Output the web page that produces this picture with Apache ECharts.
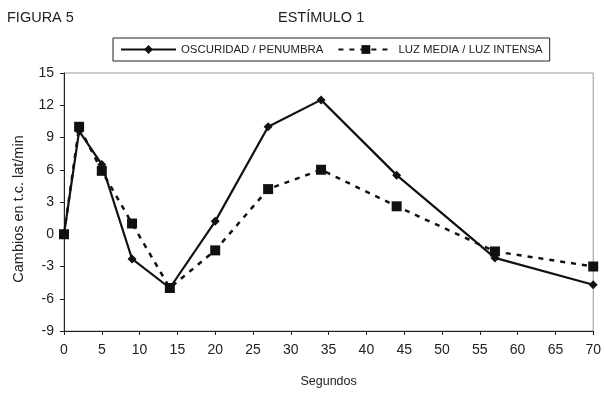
<!DOCTYPE html>
<html>
<head>
<meta charset="utf-8">
<script src="https://cdn.jsdelivr.net/npm/echarts@6/dist/echarts.min.js"></script>
<style>
  html, body { margin: 0; padding: 0; background: #fff; }
  #chart { width: 604px; height: 393px; }
</style>
</head>
<body>
<div id="chart"></div>
<script>
// segundos
var segundos = [0, 2, 5, 9, 14, 20, 27, 34, 44, 57, 70];
// cambios en t.c. lat/min
var oscuridad = [0, 9.6, 6.5, -2.3, -5, 1.2, 10, 12.5, 5.5, -2.2, -4.7];
var luzMedia = [0, 10, 5.9, 1, -5, -1.5, 4.2, 6, 2.6, -1.6, -3];
var nombres = ['OSCURIDAD / PENUMBRA', 'LUZ MEDIA / LUZ INTENSA'];

var pares = function(xs, ys) {
  return xs.map(function(x, i) { return [x, ys[i]]; });
};

var fuente = 'Liberation Sans, Arial, sans-serif';
var chart = echarts.init(document.getElementById('chart'));

var option = {
  animation: false,
  textStyle: { fontFamily: fuente, color: '#222' },
  title: [
    { text: 'FIGURA 5', left: 7, top: 10, padding: 0,
      textStyle: { fontSize: 14.5, fontWeight: 'normal', color: '#222', fontFamily: fuente } },
    { text: 'ESTÍMULO 1', left: 278, top: 10, padding: 0,
      textStyle: { fontSize: 14.5, fontWeight: 'normal', color: '#222', fontFamily: fuente } }
  ],
  legend: {
    data: nombres,
    left: 113,
    top: 38,
    padding: [6, 7],
    itemGap: 14,
    itemWidth: 55,
    itemHeight: 11,
    borderColor: '#222',
    borderWidth: 1,
    textStyle: { fontSize: 11.4, color: '#222', fontFamily: fuente }
  },
  grid: {
    left: 64, right: 9, top: 73, bottom: 61,
    show: true,
    borderColor: '#999',
    borderWidth: 1
  },
  xAxis: {
    type: 'value',
    min: 0, max: 70, interval: 5,
    name: 'Segundos',
    nameLocation: 'middle',
    nameGap: 44,
    nameTextStyle: { fontSize: 12.5, color: '#222' },
    axisLine: { onZero: false, lineStyle: { color: '#222', width: 1 } },
    axisTick: { length: 4, lineStyle: { color: '#222' } },
    axisLabel: { fontSize: 14, color: '#222', margin: 12 },
    splitLine: { show: false }
  },
  yAxis: {
    type: 'value',
    min: -9, max: 15, interval: 3,
    name: 'Cambios en t.c. lat/min',
    nameLocation: 'middle',
    nameGap: 38,
    nameTextStyle: { fontSize: 14.5, color: '#222', padding: [0, 14, 0, 0] },
    axisLine: { show: true, onZero: false, lineStyle: { color: '#222', width: 1 } },
    axisTick: { show: true, length: 4, lineStyle: { color: '#222' } },
    axisLabel: { fontSize: 14, color: '#222', margin: 10 },
    splitLine: { show: false }
  },
  series: [
    {
      name: nombres[0],
      type: 'line',
      data: pares(segundos, oscuridad),
      symbol: 'diamond',
      symbolSize: 9,
      itemStyle: { color: '#111' },
      lineStyle: { color: '#111', width: 2.2 },
      z: 3
    },
    {
      name: nombres[1],
      type: 'line',
      data: pares(segundos, luzMedia),
      symbol: 'rect',
      symbolSize: 10,
      itemStyle: { color: '#111' },
      lineStyle: { color: '#111', width: 2.5, type: [5, 6] },
      z: 2
    }
  ]
};

chart.setOption(option);
</script>
</body>
</html>
